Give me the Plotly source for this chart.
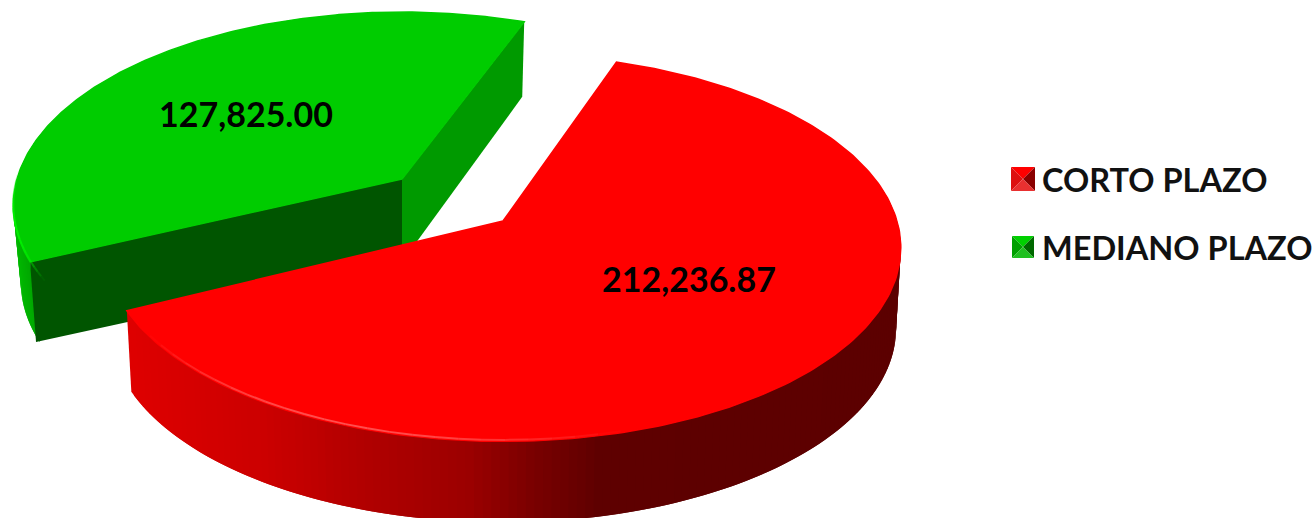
import numpy as np
import plotly.graph_objects as go

# ---- data ----
categories = ["CORTO PLAZO", "MEDIANO PLAZO"]
values = [212236.87, 127825.00]

# ---- style / geometry (pixels of the 1316x518 canvas) ----
W, H = 1316, 518
FONT = "Lato"
RED_START = 71.0          # angle (counter-clockwise from 3 o'clock) of the red slice's back edge
GRN_START = 69.0          # the same edge of the exploded green slice, seen from a shifted viewpoint
KT = 0.138                # perspective strength
RED = dict(cx=503, cy=221, a=394, b=190, h=81)
GRN = dict(cx=402, cy=179, a=385, b=190, h=80)
FOOT_SCALE = 0.988        # lower rim is slightly narrower than the upper one


def project(g, deg):
    t = np.radians(deg)
    w = 1 + KT * np.sin(t)
    return g["cx"] + g["a"] * np.cos(t) / w, g["cy"] - g["b"] * np.sin(t) / w


def lerp_color(x, stops):
    xs = [s[0] for s in stops]
    return tuple(int(round(np.interp(x, xs, [s[1][i] for s in stops]))) for i in range(3))


def poly(fig, xs, ys, color, lw=0):
    fig.add_trace(go.Scatter(
        x=list(xs), y=list(ys), mode="lines", fill="toself", fillcolor=color,
        line=dict(color=color, width=lw), hoverinfo="skip", showlegend=False))


def wall(fig, g, d0, d1, stops, n, foot=0.0):
    """Outer rim drawn as overlapping strips so no seams appear between them."""
    degs = np.linspace(d0, d1, n + 1)
    for i in range(n):
        arc = degs[i:min(i + 3, n + 1)]
        x, y = project(g, arc)
        u = (arc - d0) / (d1 - d0)
        c = "rgb(%d,%d,%d)" % lerp_color((x[0] + x[1]) / 2, stops)
        xb = g["cx"] + (x - g["cx"]) * FOOT_SCALE + foot * u
        poly(fig, [*x, *xb[::-1]], [*y, *(y + g["h"])[::-1]], c)


def top(fig, g, d0, d1, color):
    degs = np.linspace(d0, d1, 240)
    x, y = project(g, degs)
    fig.add_trace(go.Scatter(
        x=[g["cx"], *x, g["cx"]], y=[g["cy"], *y, g["cy"]], mode="lines", fill="toself",
        fillcolor=color, line=dict(color=color, width=1.5),
        hoverinfo="skip", showlegend=False))


def highlight(fig, g, d0, d1, rgb, alpha, width, n=24):
    degs = np.linspace(d0, d1, n + 1)
    for i in range(n):
        x, y = project(g, degs[i:i + 2])
        a = alpha * np.sin(np.pi * (i + 0.5) / n)
        fig.add_trace(go.Scatter(x=x, y=y - 1.5, mode="lines",
                                 line=dict(color="rgba(%d,%d,%d,%.3f)" % (*rgb, a), width=width),
                                 hoverinfo="skip", showlegend=False))


total = sum(values)
red_span = 360 * values[0] / total
grn_span = 360 * values[1] / total

fig = go.Figure()

# --- green slice (runs counter-clockwise from its start) ---
g0, g1 = GRN_START, GRN_START + grn_span
wall(fig, GRN, 165, g1, [(10, (0, 190, 0)), (22, (0, 175, 0)), (42, (0, 150, 0))], 30, foot=5)
ex, ey = project(GRN, g0)
poly(fig, [GRN["cx"], ex, ex - 2, GRN["cx"]],
     [GRN["cy"], ey, ey + GRN["h"] - 5, GRN["cy"] + GRN["h"] + 3], "#009a00")
ex, ey = project(GRN, g1)
poly(fig, [GRN["cx"], ex, ex + 6, GRN["cx"]],
     [GRN["cy"], ey, ey + GRN["h"], GRN["cy"] + GRN["h"] + 3], "#005500")
top(fig, GRN, g0, g1, "#00cc00")
highlight(fig, GRN, 178, g1 + 6, (0, 245, 0), 0.9, 2)

# --- red slice (runs clockwise from its start) ---
r0, r1 = RED_START, RED_START - red_span
wall(fig, RED, r1, 10, [
    (132, (222, 0, 0)), (267, (203, 0, 0)), (367, (176, 0, 0)), (467, (156, 0, 0)),
    (533, (122, 0, 0)), (600, (94, 0, 0)), (900, (92, 0, 0))], 150)
top(fig, RED, r0, r1, "#ff0000")
highlight(fig, RED, r1 + 8, -75, (255, 130, 130), 0.6, 2)

# --- value labels ---
label_xy = [(689, 283), (246, 118)]
fig.add_trace(go.Scatter(
    x=[p[0] for p in label_xy], y=[p[1] for p in label_xy], mode="text",
    text=[f"{v:,.2f}" for v in values], textposition="middle center",
    textfont=dict(family=FONT, size=34, color="#000000", weight="bold"),
    hoverinfo="skip", showlegend=False))

# --- legend ---
legend_rows = [
    dict(y=179, half=12, lit="#ff0000", side="#dd1010", dark="#8a0000", low="#e83030"),
    dict(y=247, half=11, lit="#00d000", side="#00a000", dark="#006800", low="#20c020"),
]
KX = 1023
for row, name in zip(legend_rows, categories):
    y, s = row["y"], row["half"]
    poly(fig, [KX - s, KX + s, KX], [y - s, y - s, y], row["lit"])
    poly(fig, [KX - s, KX, KX - s], [y - s, y, y + s], row["side"])
    poly(fig, [KX + s, KX, KX + s], [y - s, y, y + s], row["dark"])
    poly(fig, [KX - s, KX + s, KX], [y + s, y + s, y], row["low"])
    fig.add_annotation(x=1040, y=y, text=name, showarrow=False, xanchor="left", yanchor="middle",
                       xref="x", yref="y", align="left",
                       font=dict(family=FONT, size=32.5, color="#111111", weight="bold"))

fig.update_xaxes(range=[0, W], visible=False, fixedrange=True)
fig.update_yaxes(range=[H, 0], visible=False, fixedrange=True)
fig.update_layout(
    width=W, height=H, margin=dict(l=0, r=0, t=0, b=0), paper_bgcolor="white",
    plot_bgcolor="white", showlegend=False, hovermode=False, font=dict(family=FONT))
fig.write_html("out.html", config={"displayModeBar": False},
               post_script="document.body.style.margin='0';document.body.style.overflow='hidden';")
